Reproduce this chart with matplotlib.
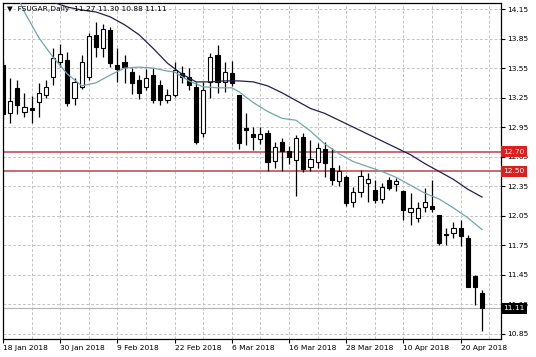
import numpy as np
import matplotlib.pyplot as plt
from matplotlib.transforms import blended_transform_factory

# FSUGAR daily, 18 Jan 2018 - 25 Apr 2018 (68 trading days)
date_labels = ['18 Jan 2018', '30 Jan 2018', '9 Feb 2018', '22 Feb 2018', '6 Mar 2018',
               '16 Mar 2018', '28 Mar 2018', '10 Apr 2018', '20 Apr 2018']

opens = [13.58, 13.09, 13.35, 13.10, 13.14, 13.21, 13.28, 13.46, 13.61, 13.63,
         13.25, 13.36, 13.46, 13.89, 13.75, 13.94, 13.58, 13.61, 13.51, 13.43,
         13.36, 13.48, 13.38, 13.23, 13.28, 13.50, 13.46, 13.36, 12.89, 13.41,
         13.68, 13.41, 13.50, 13.28, 12.94, 12.88, 12.83, 12.89, 12.61, 12.80,
         12.71, 12.62, 12.85, 12.55, 12.60, 12.73, 12.54, 12.40, 12.44, 12.19,
         12.29, 12.38, 12.31, 12.22, 12.41, 12.37, 12.30, 12.09, 12.03, 12.14,
         12.15, 12.06, 11.86, 11.88, 11.93, 11.82, 11.44, 11.27]
highs = [13.62, 13.45, 13.43, 13.30, 13.27, 13.40, 13.43, 13.75, 13.79, 13.71,
         13.45, 13.68, 13.91, 14.02, 14.00, 13.97, 13.75, 13.68, 13.55, 13.48,
         13.54, 13.55, 13.43, 13.34, 13.61, 13.57, 13.55, 13.41, 13.41, 13.70,
         13.78, 13.61, 13.62, 13.28, 13.09, 12.95, 12.95, 12.92, 12.80, 12.84,
         12.76, 12.87, 12.89, 12.82, 12.79, 12.80, 12.74, 12.57, 12.46, 12.34,
         12.52, 12.48, 12.41, 12.38, 12.44, 12.43, 12.31, 12.28, 12.19, 12.33,
         12.41, 12.06, 11.93, 11.99, 12.01, 11.85, 11.45, 11.30]
lows = [13.02, 12.99, 13.08, 13.05, 12.99, 13.05, 13.25, 13.38, 13.56, 13.16,
        13.18, 13.34, 13.43, 13.66, 13.66, 13.56, 13.41, 13.40, 13.29, 13.24,
        13.33, 13.20, 13.18, 13.20, 13.26, 13.40, 13.33, 12.78, 12.85, 13.25,
        13.30, 13.31, 13.37, 12.73, 12.77, 12.72, 12.78, 12.50, 12.54, 12.51,
        12.58, 12.25, 12.49, 12.51, 12.54, 12.44, 12.36, 12.35, 12.15, 12.14,
        12.24, 12.19, 12.18, 12.18, 12.31, 12.30, 12.01, 11.96, 11.99, 12.09,
        12.09, 11.75, 11.75, 11.82, 11.74, 11.33, 11.14, 10.88]
closes = [13.08, 13.22, 13.18, 13.15, 13.12, 13.30, 13.36, 13.65, 13.69, 13.20,
          13.41, 13.61, 13.88, 13.76, 13.95, 13.60, 13.54, 13.56, 13.40, 13.30,
          13.45, 13.23, 13.23, 13.28, 13.53, 13.46, 13.38, 12.80, 13.33, 13.66,
          13.41, 13.51, 13.40, 12.79, 12.92, 12.85, 12.88, 12.60, 12.75, 12.71,
          12.65, 12.84, 12.53, 12.63, 12.74, 12.59, 12.41, 12.51, 12.18, 12.29,
          12.45, 12.42, 12.21, 12.34, 12.33, 12.40, 12.11, 12.13, 12.13, 12.19,
          12.12, 11.77, 11.85, 11.93, 11.84, 11.33, 11.33, 11.11]

# moving averages (bar index -> value)
ma_slow_idx = [7, 9, 11, 13, 15, 17, 19, 21, 23, 25, 27, 29, 31, 33, 35, 37, 39, 41, 43,
               45, 47, 49, 51, 53, 55, 57, 59, 61, 63, 65, 67]
ma_slow = [14.22, 14.17, 14.14, 14.12, 14.07, 13.99, 13.89, 13.75, 13.60, 13.49, 13.41,
           13.41, 13.42, 13.42, 13.41, 13.37, 13.30, 13.22, 13.14, 13.09, 13.02, 12.95,
           12.88, 12.81, 12.74, 12.67, 12.58, 12.50, 12.42, 12.32, 12.24]
ma_fast_idx = [2, 3, 4, 5, 7, 9, 11, 13, 15, 17, 19, 21, 23, 24, 26, 28, 30, 32, 33, 35,
               37, 39, 41, 43, 45, 47, 49, 51, 53, 55, 57, 59, 61, 63, 65, 67]
ma_fast = [14.28, 14.12, 13.99, 13.86, 13.66, 13.49, 13.37, 13.40, 13.48, 13.55, 13.56,
           13.55, 13.52, 13.51, 13.42, 13.36, 13.35, 13.35, 13.31, 13.20, 13.11, 13.04,
           13.02, 12.91, 12.78, 12.68, 12.60, 12.55, 12.50, 12.44, 12.36, 12.28, 12.22,
           12.13, 12.03, 11.91]

levels = [12.70, 12.50]
last_price = 11.11
y_ticks = [10.85, 11.15, 11.45, 11.75, 12.05, 12.35, 12.65, 12.95, 13.25, 13.55, 13.85, 14.15]
title = '\u25bc  FSUGAR,Daily  11.27 11.30 10.88 11.11'

fig = plt.figure(figsize=(5.36, 3.57), dpi=100)
ax = fig.add_axes([0.0047, 0.0513, 0.93, 0.9411])

x = np.arange(len(opens))
o = np.array(opens)
c = np.array(closes)
up = c >= o
body_low = np.minimum(o, c)
body_h = np.maximum(np.abs(c - o), 0.015)

# wicks and bodies
ax.vlines(x, lows, highs, color='black', linewidth=0.9, zorder=3)
ax.bar(x, body_h, bottom=body_low, width=0.58,
       color=np.where(up, 'white', 'black'), edgecolor='black', linewidth=0.8, zorder=4)

# moving averages
ax.plot(ma_slow_idx, ma_slow, color='#20204f', linewidth=0.9, zorder=5)
ax.plot(ma_fast_idx, ma_fast, color='#6fa8a8', linewidth=0.9, zorder=5)

# horizontal levels
for lv in levels:
    ax.axhline(lv, color='#c0404c', linewidth=1.1, zorder=2)
ax.axhline(last_price, color='#b4b4b4', linewidth=0.8, zorder=2)

ax.set_xlim(-0.07, 69.65)
ax.set_ylim(10.802, 14.214)

# axes, ticks, grid
ax.yaxis.tick_right()
ax.set_yticks(y_ticks)
ax.set_yticklabels(['%.2f' % v for v in y_ticks])
ax.set_xticks(range(0, len(opens), 8))
ax.set_xticklabels(date_labels, ha='left')
ax.set_xticks(range(0, 70, 4), minor=True)
ax.tick_params(axis='both', which='major', labelsize=5.4, length=3, width=0.8,
               direction='out', pad=1.5, colors='black')
ax.tick_params(axis='x', which='minor', length=0)
ax.grid(True, which='both', axis='x', color='#c4c4c4', linestyle=(0, (3, 2)), linewidth=0.7)
ax.grid(True, which='major', axis='y', color='#c4c4c4', linestyle=(0, (3, 2)), linewidth=0.7)
ax.set_axisbelow(True)
for s in ax.spines.values():
    s.set_color('black')
    s.set_linewidth(0.9)

# price labels on the right axis
tr = blended_transform_factory(ax.transAxes, ax.transData)
for lv in levels:
    ax.text(1.005, lv, '%.2f' % lv, transform=tr, fontsize=5.4, color='white',
            va='center', ha='left', clip_on=False, zorder=10,
            bbox=dict(facecolor='#e01e1e', edgecolor='none', pad=1.8))
ax.text(1.005, last_price, '%.2f' % last_price, transform=tr, fontsize=5.4, color='white',
        va='center', ha='left', clip_on=False, zorder=10,
        bbox=dict(facecolor='black', edgecolor='none', pad=1.8))

ax.text(0.008, 0.982, title, transform=ax.transAxes, fontsize=5.4, va='center',
        ha='left', color='black', zorder=11)

fig.savefig('out.png', dpi=100, facecolor='white')
